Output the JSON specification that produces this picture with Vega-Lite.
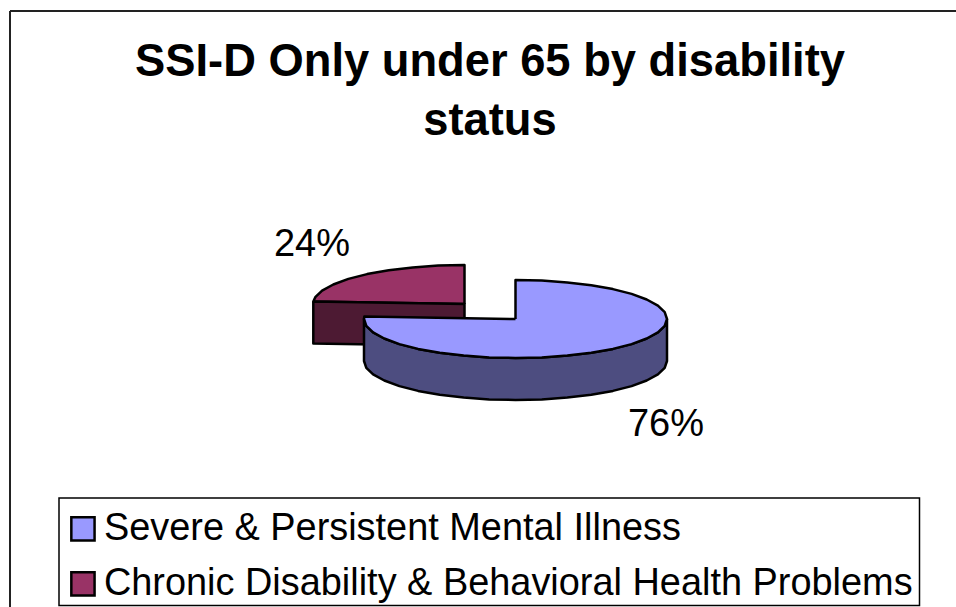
{
  "$schema": "https://vega.github.io/schema/vega-lite/v6.json",
  "width": 956,
  "height": 607,
  "padding": 0,
  "autosize": {"type": "none"},
  "background": "white",
  "view": {"stroke": null},
  "config": {"font": "Liberation Sans"},
  "title": {
    "text": ["SSI-D Only under 65 by disability", "status"],
    "font": "Liberation Sans",
    "fontSize": 45.3,
    "fontWeight": "bold",
    "color": "black",
    "anchor": "middle",
    "frame": "group",
    "orient": "top",
    "baseline": "alphabetic",
    "lineHeight": 59,
    "dx": 12,
    "offset": -180
  },
  "layer": [
    {
      "description": "Outer frame of the slide, open at the right and bottom edges",
      "data": {"values": [
        {"x": 10, "y": 11, "xEnd": 956, "yEnd": 11},
        {"x": 10, "y": 11, "xEnd": 10, "yEnd": 607}
      ]},
      "mark": {"type": "rule", "stroke": "#222222", "strokeWidth": 2},
      "encoding": {
        "x": {"field": "x", "type": "quantitative", "scale": {"domain": [0, 956]}, "axis": null},
        "y": {"field": "y", "type": "quantitative", "scale": {"domain": [607, 0]}, "axis": null},
        "x2": {"field": "xEnd"},
        "y2": {"field": "yEnd"}
      }
    },
    {
      "description": "Box behind the legend entries",
      "data": {"values": [{"x": 59, "xEnd": 919.5, "y": 498, "yEnd": 605.5}]},
      "mark": {"type": "rect", "fill": "white", "stroke": "black", "strokeWidth": 1.5},
      "encoding": {
        "x": {"field": "x", "type": "quantitative", "scale": {"domain": [0, 956]}, "axis": null},
        "y": {"field": "y", "type": "quantitative", "scale": {"domain": [607, 0]}, "axis": null},
        "x2": {"field": "xEnd"},
        "y2": {"field": "yEnd"}
      }
    },
    {
      "description": "Pie faces in paint order: far slice first, then the near slice with its rim",
      "data": {"values": [
        {"face": "Chronic Disability & Behavioral Health Problems", "step": 0, "x": 464.5, "y": 304},
        {"face": "Chronic Disability & Behavioral Health Problems", "step": 1, "x": 464.5, "y": 265},
        {"face": "Chronic Disability & Behavioral Health Problems", "step": 2, "x": 438.2, "y": 265.6},
        {"face": "Chronic Disability & Behavioral Health Problems", "step": 3, "x": 412.7, "y": 267.4},
        {"face": "Chronic Disability & Behavioral Health Problems", "step": 4, "x": 388.75, "y": 270.2},
        {"face": "Chronic Disability & Behavioral Health Problems", "step": 5, "x": 367.1, "y": 274.1},
        {"face": "Chronic Disability & Behavioral Health Problems", "step": 6, "x": 348.4, "y": 278.9},
        {"face": "Chronic Disability & Behavioral Health Problems", "step": 7, "x": 333.3, "y": 284.5},
        {"face": "Chronic Disability & Behavioral Health Problems", "step": 8, "x": 322.1, "y": 290.7},
        {"face": "Chronic Disability & Behavioral Health Problems", "step": 9, "x": 315.3, "y": 297.2},
        {"face": "Chronic Disability & Behavioral Health Problems", "step": 10, "x": 313.3, "y": 301.6},
        {"face": "Chronic Disability & Behavioral Health Problems", "step": 11, "x": 464.5, "y": 304},

        {"face": "Chronic Disability rim", "step": 0, "x": 313.3, "y": 301.6},
        {"face": "Chronic Disability rim", "step": 1, "x": 464.5, "y": 304},
        {"face": "Chronic Disability rim", "step": 2, "x": 464.5, "y": 346},
        {"face": "Chronic Disability rim", "step": 3, "x": 313.3, "y": 343.6},
        {"face": "Chronic Disability rim", "step": 4, "x": 313.3, "y": 301.6},

        {"face": "Severe Mental Illness rim", "step": 0, "x": 667, "y": 319},
        {"face": "Severe Mental Illness rim", "step": 1, "x": 664.7, "y": 325.8},
        {"face": "Severe Mental Illness rim", "step": 2, "x": 657.9, "y": 332.3},
        {"face": "Severe Mental Illness rim", "step": 3, "x": 646.7, "y": 338.5},
        {"face": "Severe Mental Illness rim", "step": 4, "x": 631.6, "y": 344.1},
        {"face": "Severe Mental Illness rim", "step": 5, "x": 612.9, "y": 348.9},
        {"face": "Severe Mental Illness rim", "step": 6, "x": 591.25, "y": 352.8},
        {"face": "Severe Mental Illness rim", "step": 7, "x": 567.3, "y": 355.6},
        {"face": "Severe Mental Illness rim", "step": 8, "x": 541.8, "y": 357.4},
        {"face": "Severe Mental Illness rim", "step": 9, "x": 515.5, "y": 358},
        {"face": "Severe Mental Illness rim", "step": 10, "x": 489.2, "y": 357.4},
        {"face": "Severe Mental Illness rim", "step": 11, "x": 463.7, "y": 355.6},
        {"face": "Severe Mental Illness rim", "step": 12, "x": 439.75, "y": 352.8},
        {"face": "Severe Mental Illness rim", "step": 13, "x": 418.1, "y": 348.9},
        {"face": "Severe Mental Illness rim", "step": 14, "x": 399.4, "y": 344.1},
        {"face": "Severe Mental Illness rim", "step": 15, "x": 384.3, "y": 338.5},
        {"face": "Severe Mental Illness rim", "step": 16, "x": 373.1, "y": 332.3},
        {"face": "Severe Mental Illness rim", "step": 17, "x": 366.3, "y": 325.8},
        {"face": "Severe Mental Illness rim", "step": 18, "x": 364, "y": 319},
        {"face": "Severe Mental Illness rim", "step": 19, "x": 364, "y": 361},
        {"face": "Severe Mental Illness rim", "step": 20, "x": 366.3, "y": 367.8},
        {"face": "Severe Mental Illness rim", "step": 21, "x": 373.1, "y": 374.3},
        {"face": "Severe Mental Illness rim", "step": 22, "x": 384.3, "y": 380.5},
        {"face": "Severe Mental Illness rim", "step": 23, "x": 399.4, "y": 386.1},
        {"face": "Severe Mental Illness rim", "step": 24, "x": 418.1, "y": 390.9},
        {"face": "Severe Mental Illness rim", "step": 25, "x": 439.75, "y": 394.8},
        {"face": "Severe Mental Illness rim", "step": 26, "x": 463.7, "y": 397.6},
        {"face": "Severe Mental Illness rim", "step": 27, "x": 489.2, "y": 399.4},
        {"face": "Severe Mental Illness rim", "step": 28, "x": 515.5, "y": 400},
        {"face": "Severe Mental Illness rim", "step": 29, "x": 541.8, "y": 399.4},
        {"face": "Severe Mental Illness rim", "step": 30, "x": 567.3, "y": 397.6},
        {"face": "Severe Mental Illness rim", "step": 31, "x": 591.25, "y": 394.8},
        {"face": "Severe Mental Illness rim", "step": 32, "x": 612.9, "y": 390.9},
        {"face": "Severe Mental Illness rim", "step": 33, "x": 631.6, "y": 386.1},
        {"face": "Severe Mental Illness rim", "step": 34, "x": 646.7, "y": 380.5},
        {"face": "Severe Mental Illness rim", "step": 35, "x": 657.9, "y": 374.3},
        {"face": "Severe Mental Illness rim", "step": 36, "x": 664.7, "y": 367.8},
        {"face": "Severe Mental Illness rim", "step": 37, "x": 667, "y": 361},
        {"face": "Severe Mental Illness rim", "step": 38, "x": 667, "y": 319},

        {"face": "Severe & Persistent Mental Illness", "step": 0, "x": 515.5, "y": 319},
        {"face": "Severe & Persistent Mental Illness", "step": 1, "x": 515.5, "y": 280},
        {"face": "Severe & Persistent Mental Illness", "step": 2, "x": 541.8, "y": 280.6},
        {"face": "Severe & Persistent Mental Illness", "step": 3, "x": 567.3, "y": 282.4},
        {"face": "Severe & Persistent Mental Illness", "step": 4, "x": 591.25, "y": 285.2},
        {"face": "Severe & Persistent Mental Illness", "step": 5, "x": 612.9, "y": 289.1},
        {"face": "Severe & Persistent Mental Illness", "step": 6, "x": 631.6, "y": 293.9},
        {"face": "Severe & Persistent Mental Illness", "step": 7, "x": 646.7, "y": 299.5},
        {"face": "Severe & Persistent Mental Illness", "step": 8, "x": 657.9, "y": 305.7},
        {"face": "Severe & Persistent Mental Illness", "step": 9, "x": 664.7, "y": 312.2},
        {"face": "Severe & Persistent Mental Illness", "step": 10, "x": 667, "y": 319},
        {"face": "Severe & Persistent Mental Illness", "step": 11, "x": 664.7, "y": 325.8},
        {"face": "Severe & Persistent Mental Illness", "step": 12, "x": 657.9, "y": 332.3},
        {"face": "Severe & Persistent Mental Illness", "step": 13, "x": 646.7, "y": 338.5},
        {"face": "Severe & Persistent Mental Illness", "step": 14, "x": 631.6, "y": 344.1},
        {"face": "Severe & Persistent Mental Illness", "step": 15, "x": 612.9, "y": 348.9},
        {"face": "Severe & Persistent Mental Illness", "step": 16, "x": 591.25, "y": 352.8},
        {"face": "Severe & Persistent Mental Illness", "step": 17, "x": 567.3, "y": 355.6},
        {"face": "Severe & Persistent Mental Illness", "step": 18, "x": 541.8, "y": 357.4},
        {"face": "Severe & Persistent Mental Illness", "step": 19, "x": 515.5, "y": 358},
        {"face": "Severe & Persistent Mental Illness", "step": 20, "x": 489.2, "y": 357.4},
        {"face": "Severe & Persistent Mental Illness", "step": 21, "x": 463.7, "y": 355.6},
        {"face": "Severe & Persistent Mental Illness", "step": 22, "x": 439.75, "y": 352.8},
        {"face": "Severe & Persistent Mental Illness", "step": 23, "x": 418.1, "y": 348.9},
        {"face": "Severe & Persistent Mental Illness", "step": 24, "x": 399.4, "y": 344.1},
        {"face": "Severe & Persistent Mental Illness", "step": 25, "x": 384.3, "y": 338.5},
        {"face": "Severe & Persistent Mental Illness", "step": 26, "x": 373.1, "y": 332.3},
        {"face": "Severe & Persistent Mental Illness", "step": 27, "x": 366.3, "y": 325.8},
        {"face": "Severe & Persistent Mental Illness", "step": 28, "x": 364, "y": 319},
        {"face": "Severe & Persistent Mental Illness", "step": 29, "x": 364.3, "y": 316.6},
        {"face": "Severe & Persistent Mental Illness", "step": 30, "x": 515.5, "y": 319}
      ]},
      "mark": {"type": "line", "stroke": "black", "strokeWidth": 2.5, "strokeJoin": "round", "interpolate": "linear"},
      "encoding": {
        "x": {"field": "x", "type": "quantitative", "scale": {"domain": [0, 956]}, "axis": null},
        "y": {"field": "y", "type": "quantitative", "scale": {"domain": [607, 0]}, "axis": null},
        "order": {"field": "step", "type": "quantitative"},
        "fill": {
          "field": "face",
          "type": "nominal",
          "scale": {
            "domain": [
              "Severe & Persistent Mental Illness",
              "Chronic Disability & Behavioral Health Problems",
              "Severe Mental Illness rim",
              "Chronic Disability rim"
            ],
            "range": ["#9999FF", "#993366", "#4D4D80", "#4D1A33"]
          },
          "legend": {
            "values": ["Severe & Persistent Mental Illness", "Chronic Disability & Behavioral Health Problems"],
            "title": null,
            "orient": "none",
            "legendX": 56,
            "legendY": 502,
            "padding": 8,
            "symbolType": "square",
            "symbolSize": 540,
            "symbolStrokeColor": "black",
            "symbolStrokeWidth": 2.5,
            "labelFont": "Liberation Sans",
            "labelFontSize": 37.9,
            "labelColor": "black",
            "labelLimit": 900,
            "rowPadding": 16,
            "labelOffset": 2
          }
        }
      }
    },
    {
      "description": "Share of each slice",
      "data": {"values": [
        {"share": 0.76, "x": 666, "y": 425},
        {"share": 0.24, "x": 312, "y": 245}
      ]},
      "mark": {"type": "text", "font": "Liberation Sans", "fontSize": 38, "color": "black", "align": "center", "baseline": "middle"},
      "encoding": {
        "x": {"field": "x", "type": "quantitative", "scale": {"domain": [0, 956]}, "axis": null},
        "y": {"field": "y", "type": "quantitative", "scale": {"domain": [607, 0]}, "axis": null},
        "text": {"field": "share", "type": "quantitative", "format": ".0%"}
      }
    }
  ]
}
